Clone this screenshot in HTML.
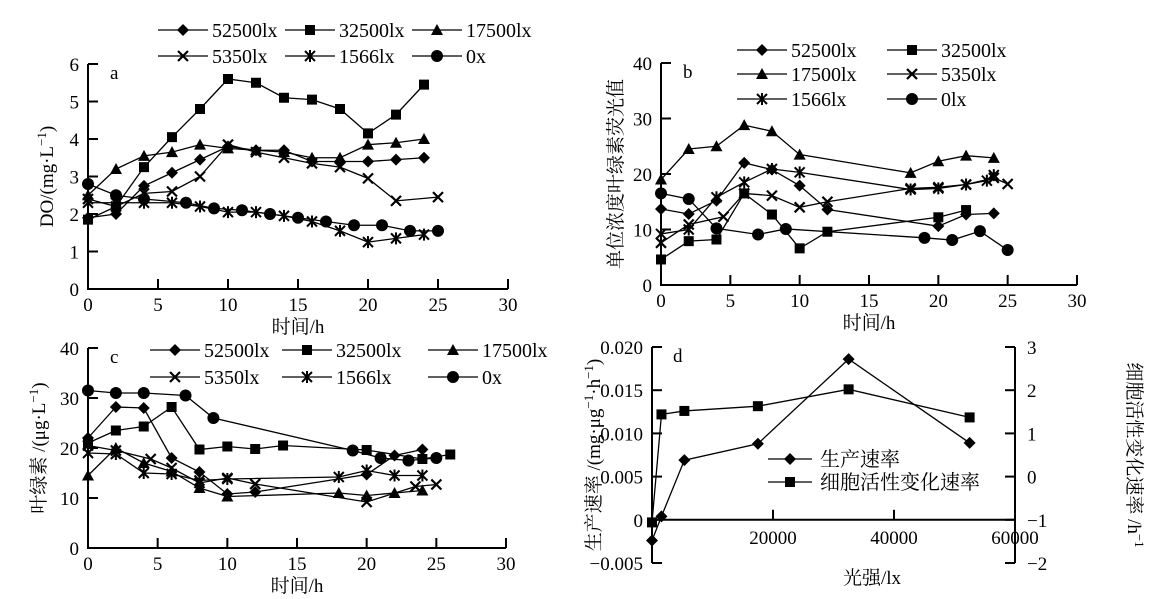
<!DOCTYPE html>
<html><head><meta charset="utf-8"><style>
html,body{margin:0;padding:0;background:#fff;}
svg{display:block;font-family:"Liberation Serif","Noto Serif CJK SC",serif;}
text{fill:#000;}
</style></head><body>
<svg id="chart" width="1173" height="599" viewBox="0 0 1173 599"></svg>
<script>
// ---------- data ----------
const aSeriesNames = ["52500lx","32500lx","17500lx","5350lx","1566lx","0x"];
const aD52500 = [[0,1.9],[2,2.0],[4,2.75],[6,3.1],[8,3.45],[10,3.8],[12,3.7],[14,3.7],[16,3.4],[18,3.4],[20,3.4],[22,3.45],[24,3.5]];
const aD32500 = [[0,1.85],[2,2.2],[4,3.25],[6,4.05],[8,4.8],[10,5.6],[12,5.5],[14,5.1],[16,5.05],[18,4.8],[20,4.15],[22,4.65],[24,5.45]];
const aD17500 = [[0,2.5],[2,3.2],[4,3.55],[6,3.65],[8,3.85],[10,3.75],[12,3.7],[14,3.65],[16,3.5],[18,3.5],[20,3.85],[22,3.9],[24,4.0]];
const aD5350 = [[0,2.4],[2,2.2],[4,2.55],[6,2.6],[8,3.0],[10,3.85],[12,3.65],[14,3.5],[16,3.35],[18,3.25],[20,2.95],[22,2.35],[25,2.45]];
const aD1566 = [[0,2.3],[2,2.3],[4,2.3],[6,2.3],[8,2.2],[10,2.05],[12,2.05],[14,1.95],[16,1.8],[18,1.55],[20,1.25],[22,1.35],[24,1.45]];
const aD0 = [[0,2.8],[2,2.5],[4,2.4],[7,2.3],[9,2.15],[11,2.1],[13,2.0],[15,1.9],[17,1.8],[19,1.7],[21,1.7],[23,1.55],[25,1.55]];

const bSeriesNames = ["52500lx","32500lx","17500lx","5350lx","1566lx","0lx"];
const bD52500 = [[0,13.7],[2,12.8],[4,15.2],[6,22],[8,20.8],[10,17.9],[12,13.6],[20,10.6],[22,12.7],[24,12.9]];
const bD32500 = [[0,4.6],[2,7.9],[4,8.2],[6,16.5],[8,12.7],[10,6.6],[12,9.6],[20,12.2],[22,13.5]];
const bD17500 = [[0,19],[2,24.5],[4,25],[6,28.8],[8,27.7],[10,23.5],[18,20.2],[20,22.3],[22,23.3],[24,22.9]];
const bD5350 = [[0,7.6],[2,10.9],[4.5,12.3],[6,16.5],[8,16.1],[10,14],[12,15],[18,17.4],[20,17.6],[22,18.1],[24,19.3],[25,18.2]];
const bD1566 = [[0,9.2],[2,10],[4,15.8],[6,18.5],[8,20.9],[10,20.3],[18,17.2],[20,17.4],[22,18.1],[23.5,18.8],[24,19.8]];
const bD0 = [[0,16.5],[2,15.5],[4,10.2],[7,9.1],[9,10.1],[19,8.5],[21,8.1],[23,9.7],[25,6.3]];

const cSeriesNames = ["52500lx","32500lx","17500lx","5350lx","1566lx","0x"];
const cD52500 = [[0,22],[2,28.2],[4,28],[6,18],[8,15.2],[10,10.8],[12,11.2],[20,14.7],[22,18.5],[24,19.7]];
const cD32500 = [[0,21],[2,23.5],[4,24.3],[6,28.2],[8,19.7],[10,20.3],[12,19.8],[14,20.5],[20,19.6],[24,17.8],[26,18.7]];
const cD17500 = [[0,14.5],[2,20],[4,17],[6,15.3],[8,12],[10,10.3],[18,11],[20,10.5],[22,11],[24,11.5]];
const cD5350 = [[0,20.5],[2,19.5],[4.5,17.8],[6,16],[8,13],[10,14],[12,12.8],[20,9.2],[23.5,12.3],[25,12.7]];
const cD1566 = [[0,19],[2,18.8],[4,15],[6,14.8],[8,13.5],[10,13.8],[18,14.2],[20,15.5],[22,14.5],[24,14.5]];
const cD0 = [[0,31.5],[2,31],[4,31],[7,30.5],[9,26],[19,19.5],[21,18],[23,17.5],[25,18]];

const dLightX = [0,1566,5350,17500,32500,52500];
const dProdRate = [-0.0024,0.0004,0.0069,0.0088,0.0186,0.0089];
const dCellRate = [-1.06,1.44,1.52,1.63,2.02,1.37];

const xTicks = [0,5,10,15,20,25,30];
// ---------- helpers ----------
const NS="http://www.w3.org/2000/svg";
const svg=document.getElementById('chart');
const FS=19;
function el(tag,attrs,parent,txt){const e=document.createElementNS(NS,tag);for(const k in attrs)e.setAttribute(k,attrs[k]);if(txt!==undefined)e.textContent=txt;(parent||svg).appendChild(e);return e;}
function marker(g,type,x,y){
  let m;
  if(type==='diamond') m=el('polygon',{points:`${x},${y-6} ${x+6},${y} ${x},${y+6} ${x-6},${y}`,fill:'#000'},g);
  else if(type==='square') m=el('rect',{x:x-5,y:y-5,width:10,height:10,fill:'#000'},g);
  else if(type==='triangle') m=el('polygon',{points:`${x},${y-6} ${x+6},${y+5} ${x-6},${y+5}`,fill:'#000'},g);
  else if(type==='circle') m=el('circle',{cx:x,cy:y,r:6,fill:'#000'},g);
  else if(type==='x') m=el('path',{d:`M${x-5} ${y-5}L${x+5} ${y+5}M${x+5} ${y-5}L${x-5} ${y+5}`,stroke:'#000','stroke-width':2.2},g);
  else { m=el('path',{d:`M${x-5} ${y-5}L${x+5} ${y+5}M${x+5} ${y-5}L${x-5} ${y+5}M${x} ${y-6}L${x} ${y+6}`,stroke:'#000','stroke-width':2},g); }
  
  
  return m;
}
const types=['diamond','square','triangle','x','asterisk','circle'];
function panel(p){
  const g=el('g',{},svg);
  
  
  const sx=v=>p.x0+(v-p.xmin)/(p.xmax-p.xmin)*(p.x1-p.x0);
  const sy=v=>p.y0-(v-p.ymin)/(p.ymax-p.ymin)*(p.y0-p.y1);
  const ax=el('path',{d:`M${p.x0} ${p.y1}V${p.y0}H${p.x1}`,stroke:'#000','stroke-width':2,fill:'none'},g);
  
  
  p.yTicks.forEach(v=>{const y=sy(v);el('line',{x1:p.x0,x2:p.x0+10,y1:y,y2:y,stroke:'#000','stroke-width':2},g);
    const t=el('text',{x:p.x0-9,y:y+7,'text-anchor':'end','font-size':FS},g,String(v));
    
    });
  xTicks.forEach(v=>{const x=sx(v);if(v>0)el('line',{x1:x,x2:x,y1:p.y0,y2:p.y0-10,stroke:'#000','stroke-width':2},g);
    const t=el('text',{x:x,y:p.y0+22,'text-anchor':'middle','font-size':FS},g,String(v));
    
    });
  p.series.forEach((s,i)=>{
    const sg=el('g',{},g);
    
    
    el('polyline',{points:s.map(d=>sx(d[0])+','+sy(d[1])).join(' '),fill:'none',stroke:'#000','stroke-width':1.3},sg);
    s.forEach(d=>marker(sg,types[i],sx(d[0]),sy(d[1])));
  });
  p.names.forEach((n,i)=>{
    const c=p.leg.cols[i%p.leg.cols.length], y=p.leg.rows[Math.floor(i/p.leg.cols.length)];
    const lg=el('g',{},g);
    
    
    el('line',{x1:c,x2:c+50,y1:y,y2:y,stroke:'#000','stroke-width':1.3},lg);
    marker(lg,types[i],c+25,y);
    el('text',{x:c+54,y:y+7,'font-size':20},lg,n);
  });
  const lab=el('text',{x:p.x0+22,y:p.y1+15,'font-size':FS},g,p.letter);
  
  
  const xt=el('text',{x:(p.x0+p.x1)/2,y:p.y0+44,'text-anchor':'middle','font-size':FS},g,'时间/h');
  
  
  const yt=el('text',{x:0,y:0,'text-anchor':'middle','font-size':FS,transform:`translate(${p.ytx},${(p.y0+p.y1)/2}) rotate(-90)`},g);
  yt.innerHTML=p.ytitle;
  
  
}
panel({name:'panel-a',letter:'a',x0:88,x1:508,y0:289,y1:64,xmin:0,xmax:30,ymin:0,ymax:6,yTicks:[0,1,2,3,4,5,6],
  series:[aD52500,aD32500,aD17500,aD5350,aD1566,aD0],names:aSeriesNames,
  leg:{cols:[158,285,412],rows:[30,56]},ytx:53,ytitle:'DO/(mg·L<tspan baseline-shift="super" font-size="13">−1</tspan>)'});
panel({name:'panel-b',letter:'b',x0:661,x1:1077,y0:285,y1:63,xmin:0,xmax:30,ymin:0,ymax:40,yTicks:[0,10,20,30,40],
  series:[bD52500,bD32500,bD17500,bD5350,bD1566,bD0],names:bSeriesNames,
  leg:{cols:[737,887],rows:[50,74,99]},ytx:622,ytitle:'单位浓度叶绿素荧光值'});
panel({name:'panel-c',letter:'c',x0:88,x1:506,y0:548,y1:348,xmin:0,xmax:30,ymin:0,ymax:40,yTicks:[0,10,20,30,40],
  series:[cD52500,cD32500,cD17500,cD5350,cD1566,cD0],names:cSeriesNames,
  leg:{cols:[150,282,428],rows:[350,377]},ytx:45,ytitle:'叶绿素 /(μg·L<tspan baseline-shift="super" font-size="13">−1</tspan>)'});
(function(){
  const g=el('g',{},svg);
  
  
  const x0=652,x1=1015,yT=347,yB=563;
  const sx=v=>x0+v/60000*(x1-x0);
  const syL=v=>yB-(v+0.005)/0.025*(yB-yT);
  const syR=v=>yB-(v+2)/5*(yB-yT);
  const ax=el('path',{d:`M${x0} ${yT}V${yB}M${x0} ${syL(0)}H${x1}M${x1} ${yT}V${yB}`,stroke:'#000','stroke-width':2,fill:'none'},g);
  
  
  const lt=[-0.005,0,0.005,0.010,0.015,0.020], ltl=['−0.005','0','0.005','0.010','0.015','0.020'];
  lt.forEach((v,i)=>{const y=syL(v);el('line',{x1:x0,x2:x0+10,y1:y,y2:y,stroke:'#000','stroke-width':2},g);
    const t=el('text',{x:x0-9,y:y+7,'text-anchor':'end','font-size':FS},g,ltl[i]);
    
    });
  [-2,-1,0,1,2,3].forEach(v=>{const y=syR(v);el('line',{x1:x1,x2:x1-10,y1:y,y2:y,stroke:'#000','stroke-width':2},g);
    const t=el('text',{x:x1+12,y:y+7,'font-size':FS},g,v<0?'−'+(-v):String(v));
    
    });
  [20000,40000,60000].forEach(v=>{const x=sx(v);el('line',{x1:x,x2:x,y1:syL(0),y2:syL(0)-10,stroke:'#000','stroke-width':2},g);
    const t=el('text',{x:x,y:syL(0)+24,'text-anchor':'middle','font-size':FS},g,String(v));
    
    });
  const s1=el('g',{},g);
  
  
  el('polyline',{points:dLightX.map((v,i)=>sx(v)+','+syL(dProdRate[i])).join(' '),fill:'none',stroke:'#000','stroke-width':1.3},s1);
  dLightX.forEach((v,i)=>marker(s1,'diamond',sx(v),syL(dProdRate[i])));
  const s2=el('g',{},g);
  
  
  el('polyline',{points:dLightX.map((v,i)=>sx(v)+','+syR(dCellRate[i])).join(' '),fill:'none',stroke:'#000','stroke-width':1.3},s2);
  dLightX.forEach((v,i)=>marker(s2,'square',sx(v),syR(dCellRate[i])));
  [['生产速率','diamond',459],['细胞活性变化速率','square',482]].forEach(l=>{
    const lg=el('g',{},g);
    
    
    el('line',{x1:768,x2:812,y1:l[2],y2:l[2],stroke:'#000','stroke-width':1.3},lg);
    marker(lg,l[1],790,l[2]);
    el('text',{x:820,y:l[2]+7,'font-size':20},lg,l[0]);
  });
  const lab=el('text',{x:673,y:362,'font-size':FS},g,'d');
  
  
  const xt=el('text',{x:872,y:584,'text-anchor':'middle','font-size':FS},g,'光强/lx');
  
  
  const yl=el('text',{x:0,y:0,'text-anchor':'middle','font-size':FS,transform:`translate(600,455) rotate(-90)`},g);
  yl.innerHTML='生产速率 /(mg·μg<tspan baseline-shift="super" font-size="13">−1</tspan>·h<tspan baseline-shift="super" font-size="13">−1</tspan>)';
  
  
  const yr=el('text',{x:0,y:0,'text-anchor':'middle','font-size':FS,transform:`translate(1128,455) rotate(90)`},g);
  yr.innerHTML='细胞活性变化速率 /h<tspan baseline-shift="super" font-size="13">−1</tspan>';
  
  
})();
</script>
</body></html>
